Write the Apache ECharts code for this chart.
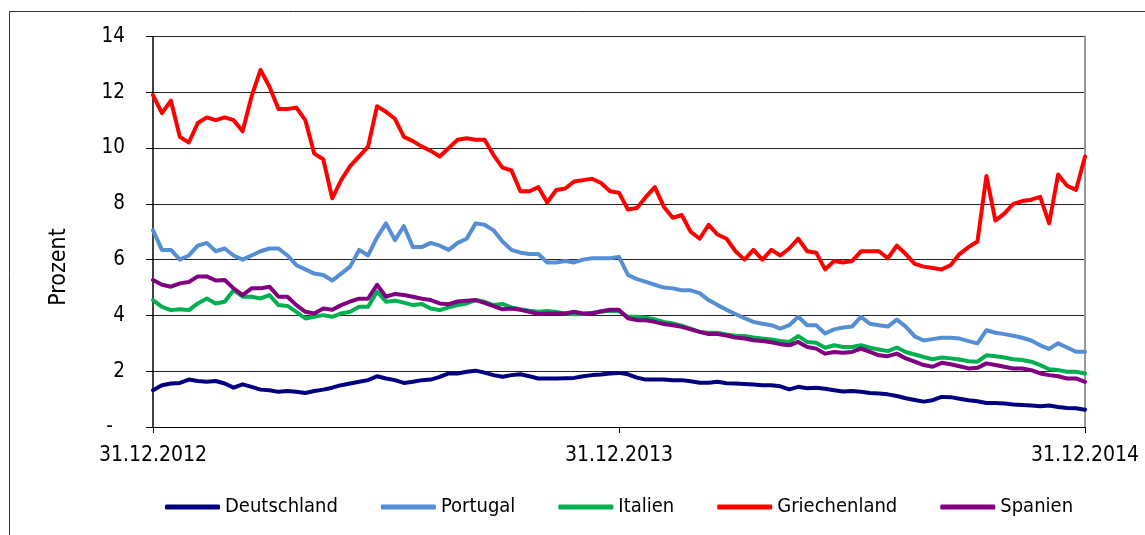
<!DOCTYPE html>
<html>
<head>
<meta charset="utf-8">
<script src="https://cdn.jsdelivr.net/npm/echarts@6/dist/echarts.min.js"></script>
<style>
  html, body { margin: 0; padding: 0; background: #fff; }
  #chart { width: 1145px; height: 535px; }
</style>
</head>
<body>
<div id="chart"></div>
<script>
// Wochen ab 31.12.2012 (0 .. 104), Renditen in Prozent
var xTickLabels = ['31.12.2012', '31.12.2013', '31.12.2014'];
var seriesNames = ['Deutschland', 'Portugal', 'Italien', 'Griechenland', 'Spanien'];
var colors = ['#000080', '#558ed5', '#00b050', '#ff0000', '#800080'];

var deutschland = [
  1.32, 1.5, 1.56, 1.58, 1.7, 1.65, 1.62, 1.65, 1.56, 1.41, 1.53, 1.44, 1.34, 1.32, 1.26, 1.29, 1.26, 1.22, 1.29, 1.34, 1.41, 1.5, 1.56, 1.62, 1.68, 1.82,
  1.74, 1.68, 1.58, 1.62, 1.68, 1.7, 1.8, 1.92, 1.92, 1.98, 2.02, 1.95, 1.86, 1.8, 1.86, 1.89, 1.82, 1.74, 1.74, 1.74, 1.75, 1.76, 1.82, 1.86, 1.88, 1.92, 1.94,
  1.89, 1.77, 1.7, 1.7, 1.7, 1.68, 1.68, 1.64, 1.59, 1.59, 1.62, 1.57, 1.56, 1.54, 1.52, 1.5, 1.5, 1.46, 1.35, 1.44, 1.39, 1.41, 1.37, 1.32, 1.27,
  1.29, 1.26, 1.22, 1.2, 1.17, 1.11, 1.03, 0.97, 0.91, 0.96, 1.08, 1.07, 1.01, 0.96, 0.92, 0.86, 0.86, 0.84, 0.81, 0.79, 0.77, 0.74, 0.77, 0.72, 0.68, 0.67, 0.62
];
var portugal = [
  7.05, 6.35, 6.35, 6.0, 6.15, 6.5, 6.6, 6.3, 6.4, 6.15, 6.0, 6.15, 6.3, 6.4, 6.4, 6.15, 5.8, 5.65, 5.5, 5.45, 5.25, 5.5, 5.75, 6.35, 6.15, 6.8,
  7.3, 6.7, 7.2, 6.45, 6.45, 6.6, 6.5, 6.35, 6.6, 6.75, 7.3, 7.25, 7.05, 6.65, 6.35, 6.25, 6.2, 6.2, 5.9, 5.9, 5.95, 5.9, 6.0, 6.05, 6.05, 6.05, 6.1,
  5.45, 5.3, 5.2, 5.1, 5.0, 4.97, 4.9, 4.9, 4.8, 4.55, 4.37, 4.2, 4.05, 3.9, 3.77, 3.7, 3.65, 3.53, 3.65, 3.95, 3.65, 3.65, 3.35, 3.5, 3.57,
  3.6, 3.95, 3.7, 3.65, 3.6, 3.85, 3.6, 3.25, 3.1, 3.15, 3.2, 3.2, 3.17, 3.08, 3.0, 3.47, 3.38, 3.33, 3.27, 3.2, 3.1, 2.93, 2.8, 3.0, 2.85, 2.7, 2.7
];
var italien = [
  4.55, 4.31, 4.19, 4.22, 4.19, 4.43, 4.61, 4.43, 4.49, 4.91, 4.67, 4.67, 4.61, 4.73, 4.37, 4.34, 4.13, 3.89, 3.95, 4.01, 3.95, 4.07, 4.13, 4.31, 4.31, 4.85,
  4.49, 4.53, 4.46, 4.37, 4.41, 4.25, 4.19, 4.29, 4.37, 4.43, 4.55, 4.49, 4.37, 4.41, 4.29, 4.22, 4.17, 4.13, 4.16, 4.12, 4.07, 4.04, 4.05, 4.1, 4.13, 4.17, 4.15,
  3.95, 3.95, 3.92, 3.86, 3.77, 3.71, 3.63, 3.53, 3.41, 3.38, 3.38, 3.32, 3.27, 3.26, 3.21, 3.17, 3.14, 3.08, 3.05, 3.26, 3.05, 3.02, 2.84, 2.93, 2.87,
  2.87, 2.93, 2.84, 2.78, 2.72, 2.85, 2.69, 2.6, 2.51, 2.43, 2.49, 2.46, 2.42, 2.36, 2.34, 2.57, 2.54, 2.49, 2.43, 2.4, 2.34, 2.22, 2.07, 2.04, 1.98, 1.98, 1.92
];
var griechenland = [
  11.9, 11.25, 11.7, 10.4, 10.2, 10.9, 11.1, 11.0, 11.1, 11.0, 10.6, 11.85, 12.8, 12.2, 11.4, 11.4, 11.45, 11.0, 9.8, 9.6, 8.2, 8.85, 9.35, 9.7, 10.05, 11.5,
  11.3, 11.05, 10.4, 10.25, 10.05, 9.9, 9.7, 10.0, 10.3, 10.35, 10.3, 10.3, 9.75, 9.3, 9.2, 8.45, 8.45, 8.6, 8.05, 8.5, 8.55, 8.8, 8.85, 8.9, 8.75, 8.45, 8.4,
  7.8, 7.85, 8.25, 8.6, 7.9, 7.5, 7.6, 7.0, 6.75, 7.25, 6.9, 6.75, 6.3, 6.0, 6.35, 6.0, 6.35, 6.15, 6.4, 6.75, 6.3, 6.25, 5.65, 5.95, 5.9,
  5.95, 6.3, 6.3, 6.3, 6.05, 6.5, 6.2, 5.85, 5.75, 5.7, 5.65, 5.8, 6.2, 6.45, 6.65, 9.0, 7.4, 7.65, 8.0, 8.1, 8.15, 8.25, 7.3, 9.05, 8.65, 8.5, 9.7
];
var spanien = [
  5.27, 5.1, 5.03, 5.15, 5.2, 5.4, 5.4, 5.25, 5.27, 4.97, 4.73, 4.97, 4.97, 5.03, 4.67, 4.67, 4.37, 4.13, 4.07, 4.25, 4.2, 4.37, 4.5, 4.6, 4.6, 5.1,
  4.67, 4.77, 4.73, 4.67, 4.6, 4.55, 4.43, 4.4, 4.5, 4.53, 4.55, 4.45, 4.33, 4.22, 4.25, 4.2, 4.13, 4.05, 4.07, 4.07, 4.07, 4.13, 4.07, 4.07, 4.15, 4.2, 4.2,
  3.9, 3.83, 3.83, 3.77, 3.69, 3.65, 3.59, 3.5, 3.41, 3.33, 3.33, 3.28, 3.21, 3.17, 3.11, 3.08, 3.04, 2.97, 2.93, 3.05, 2.87, 2.81, 2.63, 2.69, 2.66,
  2.69, 2.81, 2.69, 2.57, 2.54, 2.63, 2.46, 2.34, 2.22, 2.16, 2.3, 2.25, 2.18, 2.1, 2.12, 2.28, 2.22, 2.16, 2.1, 2.1, 2.04, 1.92, 1.86, 1.82, 1.74, 1.74, 1.62
];

var allValues = [deutschland, portugal, italien, griechenland, spanien];
var fontFam = "'Liberation Sans Narrow', 'Arial Narrow', 'DejaVu Sans Condensed', sans-serif";

var seriesData = [];
allValues.map(function (vals, index) {
  seriesData.push({
    name: seriesNames[index],
    type: 'line',
    showSymbol: false,
    symbol: 'none',
    data: vals.map(function (v, i) { return [i, v]; }), // i = Woche
    lineStyle: { color: colors[index], width: 4, join: 'round', cap: 'round' },
    itemStyle: { color: colors[index] },
    z: 2 + index
  });
});

var myChart = echarts.init(document.getElementById('chart'), null, { renderer: 'canvas' });
myChart.setOption({
  animation: false,
  backgroundColor: '#fff',
  graphic: [
    {
      type: 'rect',
      shape: { x: 9.5, y: 11.5, width: 1300, height: 700 },
      style: { fill: 'none', stroke: '#333', lineWidth: 1 },
      silent: true
    },
    {
      type: 'text',
      x: 59, y: 267,
      rotation: Math.PI / 2,
      style: {
        text: 'Prozent', fill: '#000', font: '23px ' + fontFam,
        textAlign: 'center', textVerticalAlign: 'middle'
      }
    }
  ],
  grid: { left: 153, right: 60, top: 36.5, bottom: 108, outerBoundsMode: 'none', containLabel: false },
  legend: {
    data: seriesNames,
    left: 165, top: 497, padding: 0,
    itemWidth: 55, itemHeight: 5, itemGap: 43,
    icon: 'roundRect',
    textStyle: { fontFamily: fontFam, fontSize: 20, color: '#000' }
  },
  xAxis: {
    type: 'value',
    min: 0, max: 104, interval: 52,
    axisLine: { lineStyle: { color: '#000', width: 1 } },
    axisTick: { show: true, length: 6, lineStyle: { color: '#000' } },
    splitLine: { show: false },
    axisLabel: {
      fontFamily: fontFam, fontSize: 21, color: '#000', margin: 18,
      formatter: function (v) { return xTickLabels[Math.round(v / 52)] || ''; }
    }
  },
  yAxis: [
    {
      type: 'value',
      min: 0, max: 14, interval: 2,
      axisLine: { show: true, lineStyle: { color: '#000', width: 1.5 } },
      axisTick: { show: true, length: 7, lineStyle: { color: '#000' } },
      splitLine: { show: true, lineStyle: { color: '#222', width: 1 } },
      axisLabel: {
        fontFamily: fontFam, fontSize: 20.5, color: '#000', margin: 28,
        formatter: function (v) { return v === 0 ? '{d|-}' : String(v); },
        rich: { d: { fontFamily: fontFam, fontSize: 20.5, color: '#000', padding: [0, 12, 0, 0] } }
      }
    },
    {
      type: 'value',
      position: 'right',
      min: 0, max: 14, interval: 2,
      axisLine: { show: true, lineStyle: { color: '#999', width: 2 } },
      axisTick: { show: false },
      axisLabel: { show: false },
      splitLine: { show: false }
    }
  ],
  series: seriesData
});
</script>
</body>
</html>
